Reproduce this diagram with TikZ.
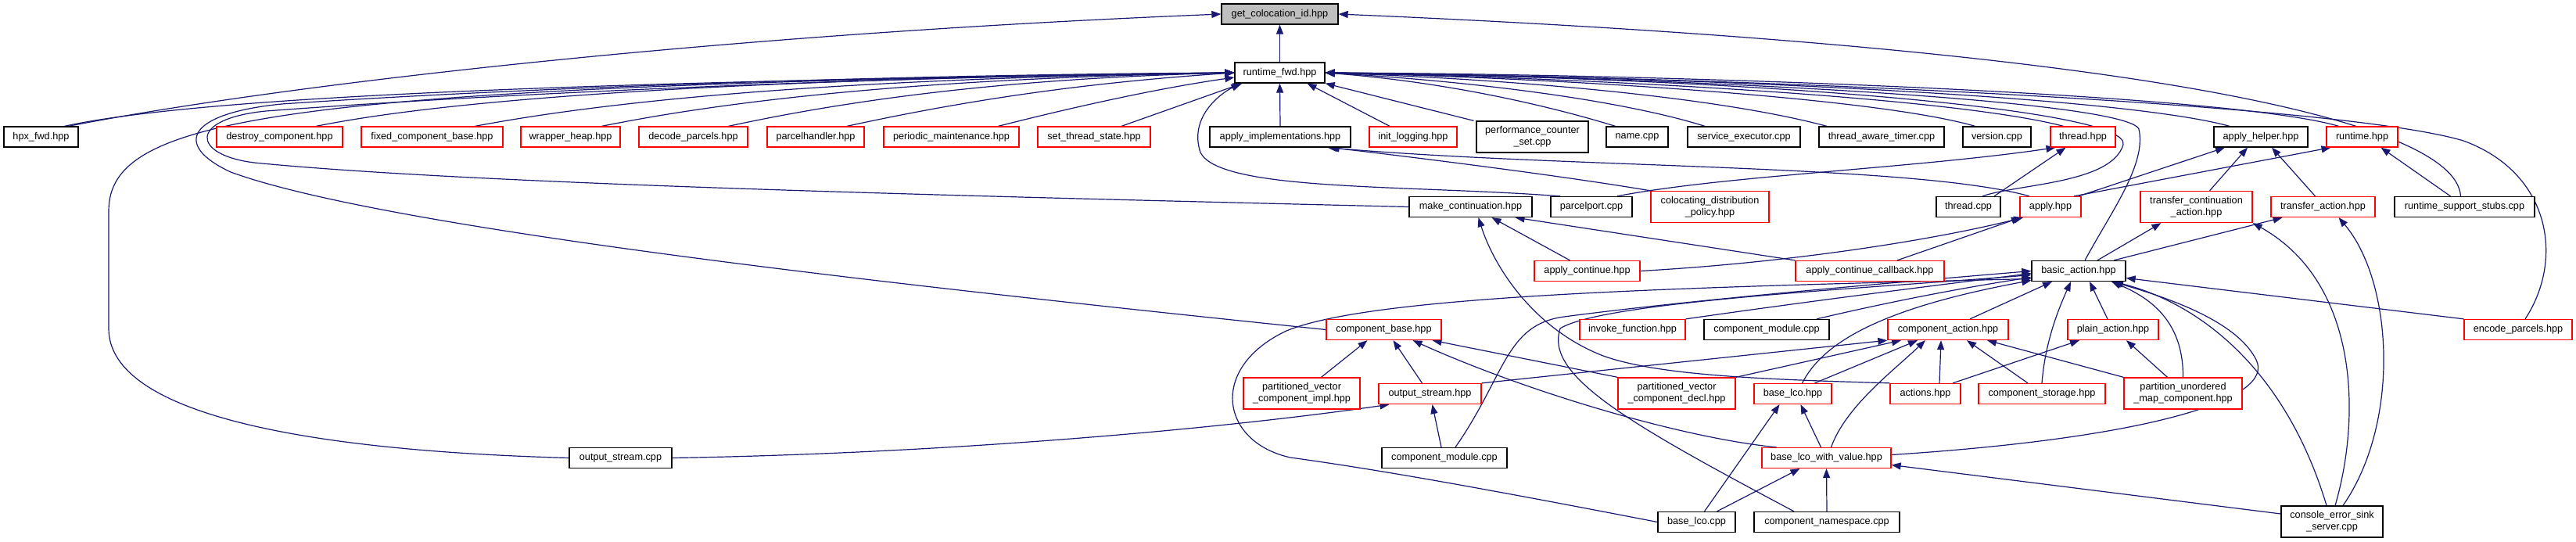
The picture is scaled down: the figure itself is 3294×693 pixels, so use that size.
\documentclass[tikz,border=0pt]{standalone}
\usepackage{fontspec}
\setmainfont{Liberation Sans}
\usetikzlibrary{arrows.meta}
\pgfdeclarelayer{bg}\pgfdeclarelayer{edges}
\pgfsetlayers{bg,edges,main}
\definecolor{edgec}{HTML}{191970}
\definecolor{nred}{HTML}{FF0000}
\definecolor{ngrey}{HTML}{BFBFBF}
\newcommand\nodefont{\fontsize{12.7pt}{15pt}\selectfont}
\begin{document}
\begin{tikzpicture}[x=1pt,y=-1pt,
  bbox/.style={draw=black, line width=1.3pt, fill=white, inner sep=0pt, minimum height=26pt, font=\nodefont, align=center},
  rbox/.style={bbox, draw=nred},
  gbox/.style={bbox, fill=ngrey},
  tall/.style={minimum height=40pt},
  edge/.style={draw=edgec, line width=1.2pt, -{Triangle[length=12pt,width=9pt]}}]
\begin{pgfonlayer}{bg}
\fill[white] (0,0) rectangle (3294,693);
\end{pgfonlayer}
\useasboundingbox (0,0) rectangle (3294,693);
% rank 0/1
\node[gbox, minimum width=149pt] (gci) at (1636.5,18) {get\_colocation\_id.hpp};
\node[bbox, minimum width=115pt] (rtf) at (1636.5,93) {runtime\_fwd.hpp};
% rank 2
\node[bbox, minimum width=95pt] (hpxfwd) at (52.5,175) {hpx\_fwd.hpp};
\node[rbox, minimum width=161pt] (destroy) at (357.5,175) {destroy\_component.hpp};
\node[rbox, minimum width=181pt] (fixed) at (552.5,175) {fixed\_component\_base.hpp};
\node[rbox, minimum width=127pt] (wrapper) at (729.5,175) {wrapper\_heap.hpp};
\node[rbox, minimum width=139pt] (decode) at (886.5,175) {decode\_parcels.hpp};
\node[rbox, minimum width=124pt] (parcelhandler) at (1043,175) {parcelhandler.hpp};
\node[rbox, minimum width=173pt] (periodic) at (1216.5,175) {periodic\_maintenance.hpp};
\node[rbox, minimum width=144pt] (setts) at (1399,175) {set\_thread\_state.hpp};
\node[bbox, minimum width=180pt] (applyimpl) at (1637,175) {apply\_implementations.hpp};
\node[rbox, minimum width=112pt] (initlog) at (1807,175) {init\_logging.hpp};
\node[bbox, tall, minimum width=143pt] (perfctr) at (1959.5,175) {performance\_counter\\\_set.cpp};
\node[bbox, minimum width=79pt] (namecpp) at (2093.5,175) {name.cpp};
\node[bbox, minimum width=144pt] (svcexec) at (2230,175) {service\_executor.cpp};
\node[bbox, minimum width=160pt] (tatimer) at (2406,175) {thread\_aware\_timer.cpp};
\node[bbox, minimum width=87pt] (versioncpp) at (2553.5,175) {version.cpp};
\node[rbox, minimum width=83pt] (threadhpp) at (2663.5,175) {thread.hpp};
\node[bbox, minimum width=120pt] (applyhelper) at (2891,175) {apply\_helper.hpp};
\node[rbox, minimum width=91pt] (runtimehpp) at (3020.5,175) {runtime.hpp};
% rank 3
\node[bbox, minimum width=157pt] (makecont) at (1880.5,264.5) {make\_continuation.hpp};
\node[bbox, minimum width=104pt] (parcelport) at (2035,264.5) {parcelport.cpp};
\node[rbox, tall, minimum width=151pt] (coloc) at (2186.5,264.5) {colocating\_distribution\\\_policy.hpp};
\node[bbox, minimum width=82pt] (threadcpp) at (2517,264.5) {thread.cpp};
\node[rbox, minimum width=78pt] (applyhpp) at (2622,264.5) {apply.hpp};
\node[rbox, tall, minimum width=143pt] (transcont) at (2808.5,264.5) {transfer\_continuation\\\_action.hpp};
\node[rbox, minimum width=133pt] (transact) at (2970.5,264.5) {transfer\_action.hpp};
\node[bbox, minimum width=179pt] (rtstubs) at (3151.5,264.5) {runtime\_support\_stubs.cpp};
% rank 4
\node[rbox, minimum width=135pt] (applycont) at (2029.5,346.5) {apply\_continue.hpp};
\node[rbox, minimum width=190pt] (applycontcb) at (2391,346.5) {apply\_continue\_callback.hpp};
\node[bbox, minimum width=120pt] (basicaction) at (2658,346.5) {basic\_action.hpp};
% rank 5
\node[rbox, minimum width=147pt] (compbase) at (1769.5,421.5) {component\_base.hpp};
\node[rbox, minimum width=135pt] (invoke) at (2087.5,421.5) {invoke\_function.hpp};
\node[bbox, minimum width=160pt] (compmodcppa) at (2259,421.5) {component\_module.cpp};
\node[rbox, minimum width=154pt] (compaction) at (2491,421.5) {component\_action.hpp};
\node[rbox, minimum width=116pt] (plainaction) at (2702,421.5) {plain\_action.hpp};
\node[rbox, minimum width=138pt] (encode) at (3220,421.5) {encode\_parcels.hpp};
% rank 6
\node[rbox, tall, minimum width=149pt] (pvimpl) at (1664.5,503) {partitioned\_vector\\\_component\_impl.hpp};
\node[rbox, minimum width=131pt] (outstreamhpp) at (1828.5,503.5) {output\_stream.hpp};
\node[rbox, tall, minimum width=150pt] (pvdecl) at (2144,503) {partitioned\_vector\\\_component\_decl.hpp};
\node[rbox, minimum width=99pt] (baselco) at (2292.5,503.5) {base\_lco.hpp};
\node[rbox, minimum width=90pt] (actions) at (2462,503.5) {actions.hpp};
\node[rbox, minimum width=162pt] (compstorage) at (2611,503.5) {component\_storage.hpp};
\node[rbox, tall, minimum width=151pt] (partumap) at (2791.5,503) {partition\_unordered\\\_map\_component.hpp};
% rank 7
\node[bbox, minimum width=131pt] (outstreamcpp) at (793.5,585.5) {output\_stream.cpp};
\node[bbox, minimum width=160pt] (compmodcppb) at (1847,585.5) {component\_module.cpp};
\node[rbox, minimum width=165pt] (baselcowv) at (2335.5,585.5) {base\_lco\_with\_value.hpp};
% rank 8
\node[bbox, minimum width=99pt] (baselcocpp) at (2169.5,667.5) {base\_lco.cpp};
\node[bbox, minimum width=186pt] (compns) at (2336,667.5) {component\_namespace.cpp};
\node[bbox, tall, minimum width=130pt] (console) at (2982,667) {console\_error\_sink\\\_server.cpp};

\begin{pgfonlayer}{edges}
% into get_colocation_id
\draw[edge] (rtf.north) -- (gci.south);
\draw[edge] ([xshift=35pt]hpxfwd.north) .. controls (350,110) and (900,45) .. (gci.west);
\draw[edge] ([xshift=-5pt]rtstubs.north) .. controls (3140,150) and (2700,60) .. (gci.east);
% into runtime_fwd from left
\draw[edge] ([xshift=30pt]hpxfwd.north) .. controls (250,125) and (700,105) .. (rtf.west);
\draw[edge] ([xshift=47pt]destroy.north) .. controls (600,122) and (1000,100) .. (rtf.west);
\draw[edge] ([xshift=55pt]fixed.north) .. controls (800,125) and (1100,100) .. (rtf.west);
\draw[edge] ([xshift=40pt]wrapper.north) .. controls (950,125) and (1200,100) .. (rtf.west);
\draw[edge] ([xshift=45pt]decode.north) .. controls (1100,125) and (1300,100) .. (rtf.west);
\draw[edge] ([xshift=40pt]parcelhandler.north) .. controls (1250,125) and (1400,105) .. (rtf.west);
\draw[edge] ([xshift=60pt]periodic.north) .. controls (1400,130) and (1500,110) .. ([yshift=-6pt]rtf.west);
\draw[edge] ([xshift=35pt]setts.north) -- ([xshift=10pt]rtf.south west);
\draw[edge] (applyimpl.north) -- (rtf.south);
\draw[edge] ([xshift=-30pt]initlog.north) -- ([xshift=35pt]rtf.south);
\draw[edge] ([xshift=-75pt]perfctr.north) -- (rtf.south east);
% into runtime_fwd from right
\draw[edge] ([xshift=-28pt]namecpp.north) .. controls (1980,135) and (1850,105) .. (rtf.east);
\draw[edge] ([xshift=-50pt]svcexec.north) .. controls (2080,130) and (1900,105) .. (rtf.east);
\draw[edge] ([xshift=-70pt]tatimer.north) .. controls (2200,125) and (1950,102) .. (rtf.east);
\draw[edge] ([xshift=-28pt]versioncpp.north) .. controls (2400,125) and (2000,100) .. (rtf.east);
\draw[edge] ([xshift=-25pt]threadhpp.north) .. controls (2500,125) and (2050,100) .. (rtf.east);
\draw[edge] ([xshift=-40pt]applyhelper.north) .. controls (2700,120) and (2100,97) .. (rtf.east);
\draw[edge] ([xshift=-30pt]runtimehpp.north) .. controls (2850,120) and (2150,95) .. (rtf.east);
\draw[edge] ([xshift=9pt]encode.north) .. controls (3280,330) and (3260,220) .. (3150,180) .. controls (3000,135) and (2300,100) .. (rtf.east);
\draw[edge] ([xshift=8pt]basicaction.north) .. controls (2700,270) and (2745,210) .. (2735,165) .. controls (2720,130) and (2200,100) .. (rtf.east);
\draw[edge] ([xshift=18pt]threadcpp.north) .. controls (2580,235) and (2700,235) .. (2715,185) .. controls (2725,140) and (2250,100) .. (rtf.east);
% loops on the left
\draw[edge] (outstreamcpp.west) .. controls (350,575) and (139,520) .. (139,420) -- (139,270) .. controls (139,150) and (350,110) .. (rtf.west);
\draw[edge] (compbase.west) .. controls (1200,370) and (500,295) .. (295,220) .. controls (220,185) and (240,145) .. (360,133) .. controls (700,110) and (1200,95) .. (rtf.west);
\draw[edge] (makecont.west) .. controls (1200,250) and (600,235) .. (325,208) .. controls (245,198) and (240,152) .. (340,142) .. controls (700,115) and (1200,97) .. (rtf.west);
\draw[edge] ([xshift=-40pt]parcelport.north) .. controls (1800,236) and (1560,245) .. (1535,195) .. controls (1520,150) and (1560,120) .. ([xshift=8pt]rtf.south west);
% thread / apply
\draw[edge] ([xshift=33pt]parcelport.north) .. controls (2200,225) and (2450,215) .. ([xshift=-35pt]threadhpp.south);
\draw[edge] ([xshift=33pt]threadcpp.north) -- ([xshift=-22pt]threadhpp.south);
\draw[edge] (coloc.north west) .. controls (2000,225) and (1800,200) .. ([xshift=-27pt]applyimpl.south east);
\draw[edge] ([xshift=-27pt]applyhpp.north) .. controls (2450,210) and (2000,215) .. ([xshift=-30pt]applyimpl.south east);
\draw[edge] ([xshift=36pt]applyhpp.north) -- ([xshift=-46pt]applyhelper.south);
\draw[edge] ([xshift=30pt]applyhpp.north) -- ([xshift=-40pt]runtimehpp.south);
\draw[edge] ([xshift=17pt]transcont.north) -- ([xshift=-17pt]applyhelper.south);
\draw[edge] ([xshift=-10pt]transact.north) -- ([xshift=14pt]applyhelper.south);
\draw[edge] ([xshift=-18pt]rtstubs.north) -- ([xshift=24pt]runtimehpp.south);
% make_continuation
\draw[edge] ([xshift=-22pt]applycont.north) -- ([xshift=27pt]makecont.south);
\draw[edge] (applycontcb.north west) -- ([xshift=57pt]makecont.south);
\draw[edge] (actions.north west) .. controls (2250,485) and (2120,480) .. (2050,455) .. controls (1960,420) and (1910,340) .. ([xshift=10pt]makecont.south);
\draw[edge] (applycont.east) .. controls (2300,335) and (2480,305) .. ([xshift=-35pt]applyhpp.south);
\draw[edge] ([xshift=35pt]applycontcb.north) -- ([xshift=-38pt]applyhpp.south);
% transfer actions
\draw[edge] ([xshift=24pt]basicaction.north) -- ([xshift=-45pt]transcont.south);
\draw[edge] ([xshift=45pt]basicaction.north) -- ([xshift=-52pt]transact.south);
\draw[edge] ([xshift=4pt]console.north) .. controls (3020,530) and (3015,360) .. (transcont.south east);
\draw[edge] ([xshift=14pt]console.north) .. controls (3070,540) and (3060,360) .. ([xshift=20pt]transact.south);
% into basic_action
\draw[edge] ([xshift=-7pt]console.north) .. controls (2925,480) and (2820,390) .. ([xshift=45pt]basicaction.south);
\draw[edge] ([yshift=10pt]console.west) -- ([yshift=-9pt]baselcowv.east);
\draw[edge] ([yshift=4pt]baselcowv.east) .. controls (2750,560) and (2910,510) .. (2885,460) .. controls (2860,410) and (2770,380) .. ([xshift=43pt]basicaction.south);
\draw[edge] (partumap.north) .. controls (2792,420) and (2760,385) .. ([xshift=42pt]basicaction.south);
\draw[edge] ([xshift=-20pt]partumap.north) -- ([xshift=17pt]plainaction.south);
\draw[edge] (partumap.north west) -- ([xshift=50pt]compaction.south);
\draw[edge] ([xshift=-18pt]compstorage.north) -- ([xshift=24pt]compaction.south);
\draw[edge] (compstorage.north) .. controls (2615,440) and (2630,400) .. ([xshift=-10pt]basicaction.south);
\draw[edge] ([xshift=35pt]actions.north) -- ([xshift=-43pt]plainaction.south);
\draw[edge] ([xshift=18pt]actions.north) -- ([xshift=-9pt]compaction.south);
\draw[edge] ([xshift=28pt]compaction.north) -- ([xshift=-34pt]basicaction.south);
\draw[edge] ([xshift=-7pt]plainaction.north) -- ([xshift=14pt]basicaction.south);
\draw[edge] (encode.north west) -- ([yshift=-9pt]basicaction.east);
\draw[edge] (invoke.north east) .. controls (2350,380) and (2500,362) .. ([yshift=-3pt]basicaction.west);
\draw[edge] ([xshift=64pt]compmodcppa.north) .. controls (2420,385) and (2510,368) .. ([yshift=-8pt]basicaction.west);
\draw[edge] ([xshift=14pt]compmodcppb.north) .. controls (1925,480) and (1925,415) .. (2000,405) .. controls (2150,385) and (2400,363) .. (basicaction.west);
\draw[edge] ([xshift=-42pt]compns.north) .. controls (2080,540) and (1975,480) .. (1995,420) .. controls (2050,385) and (2400,368) .. ([yshift=-5pt]basicaction.west);
\draw[edge] (baselcocpp.west) .. controls (1900,625) and (1760,600) .. (1650,585) .. controls (1560,565) and (1545,470) .. (1645,423) .. controls (1750,380) and (2100,368) .. ([yshift=-10pt]basicaction.west);
\draw[edge] ([xshift=12pt]baselco.north) .. controls (2330,440) and (2400,395) .. ([yshift=-12pt]basicaction.west);
% into component_action
\draw[edge] ([xshift=28pt]baselco.north) -- ([xshift=-39pt]compaction.south);
\draw[edge] ([xshift=6pt]baselcowv.north) .. controls (2360,520) and (2420,475) .. ([xshift=-29pt]compaction.south);
\draw[edge] (outstreamhpp.north east) -- (compaction.south west);
\draw[edge] (pvdecl.north east) -- ([xshift=-60pt]compaction.south);
% base_lco family
\draw[edge] ([xshift=-7pt]baselcowv.north) -- ([xshift=10pt]baselco.south);
\draw[edge] ([xshift=10pt]baselcocpp.north) -- ([xshift=-17pt]baselco.south);
\draw[edge] ([xshift=26pt]baselcocpp.north) -- ([xshift=-34pt]baselcowv.south);
\draw[edge] (compns.north) -- (baselcowv.south);
% component_base
\draw[edge] ([xshift=-64pt]baselcowv.north) .. controls (2150,560) and (1950,500) .. ([xshift=37pt]compbase.south);
\draw[edge] ([xshift=25pt]pvimpl.north) -- ([xshift=-21pt]compbase.south);
\draw[edge] ([xshift=-10pt]outstreamhpp.north) -- ([xshift=12pt]compbase.south);
\draw[edge] (pvdecl.north west) -- ([xshift=62pt]compbase.south);
% output_stream
\draw[edge] ([xshift=-4pt]compmodcppb.north) -- ([xshift=3pt]outstreamhpp.south);
\draw[edge] (outstreamcpp.east) .. controls (1200,580) and (1550,550) .. ([xshift=-52pt]outstreamhpp.south);
\end{pgfonlayer}
\end{tikzpicture}
\end{document}
